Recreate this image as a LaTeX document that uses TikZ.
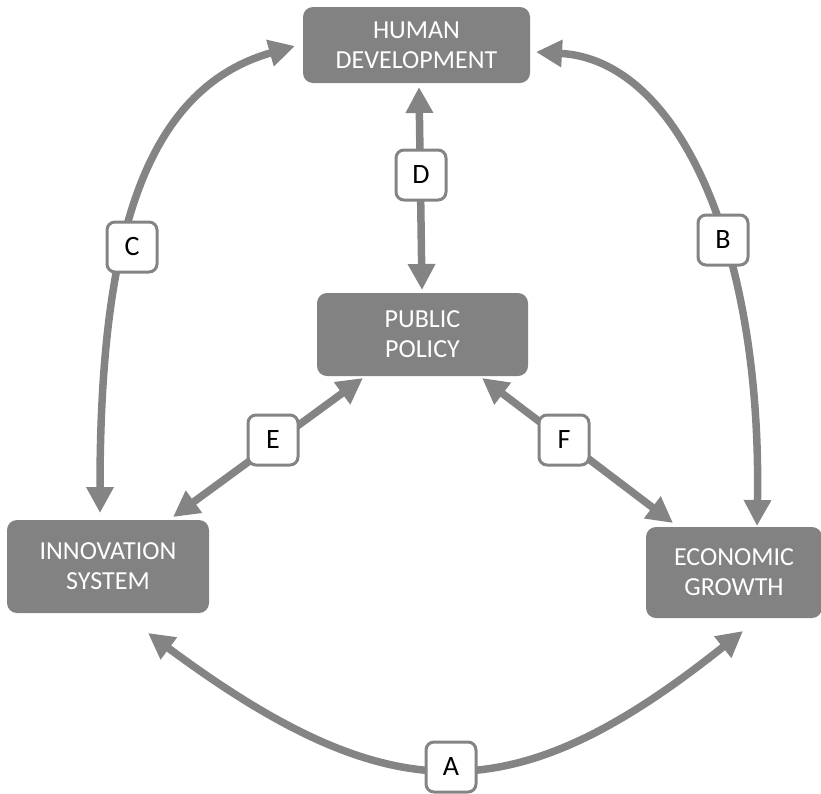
\documentclass[tikz,border=0pt]{standalone}
\usepackage{fontspec}
\setmainfont{Carlito}
\usetikzlibrary{arrows.meta}
\definecolor{boxgray}{HTML}{828282}
\definecolor{linkgray}{HTML}{848484}
\begin{document}
\begin{tikzpicture}[x=1pt,y=-1pt,
  block/.style={fill=boxgray, rounded corners=10pt, text=white, align=center,
    font=\fontsize{26}{30}\selectfont, inner sep=0pt},
  tag/.style={draw=linkgray, line width=3pt, fill=white, rounded corners=8pt,
    minimum width=50pt, minimum height=50pt, inner sep=0pt,
    font=\fontsize{28}{32}\selectfont},
  link/.style={draw=linkgray, line width=7.5pt,
    {Triangle[length=26pt,width=26pt]}-{Triangle[length=26pt,width=26pt]}}
]
\useasboundingbox (0,0) rectangle (821,793);

% main blocks
\node[block, minimum width=227pt, minimum height=76pt] (hd) at (416.5,45) {HUMAN\\DEVELOPMENT};
\node[block, minimum width=211pt, minimum height=83pt] (pp) at (422.5,334.5) {PUBLIC\\POLICY};
\node[block, minimum width=202pt, minimum height=93pt] (is) at (108,566.5) {INNOVATION\\SYSTEM};
\node[block, minimum width=176pt, minimum height=91pt] (eg) at (734,572.5) {ECONOMIC\\GROWTH};

% arrow end points
\coordinate (a1) at (148,633);
\coordinate (a2) at (743,631);
\coordinate (b1) at (536,52);
\coordinate (b2) at (757,526);
\coordinate (c1) at (100,513);
\coordinate (c2) at (295,46);
\coordinate (d1) at (419,87);
\coordinate (d2) at (422,290);
\coordinate (e1) at (363,378);
\coordinate (e2) at (173,517);
\coordinate (f1) at (482,378);
\coordinate (f2) at (673,523);

% connectors
\draw[link] (a1) .. controls (391,813) and (515,813) .. (a2);
\draw[link] (b1) .. controls (680,60) and (762,250) .. (b2);
\draw[link] (c1) .. controls (100,250) and (140,90) .. (c2);
\draw[link] (d1) -- (d2);
\draw[link] (e1) -- (e2);
\draw[link] (f1) -- (f2);

% link labels
\node[tag] (la) at (451,767) {A};
\node[tag] (lb) at (723,240) {B};
\node[tag] (lc) at (132,247) {C};
\node[tag] (ld) at (421,175) {D};
\node[tag] (le) at (273,440) {E};
\node[tag] (lf) at (564,440) {F};
\end{tikzpicture}
\end{document}
